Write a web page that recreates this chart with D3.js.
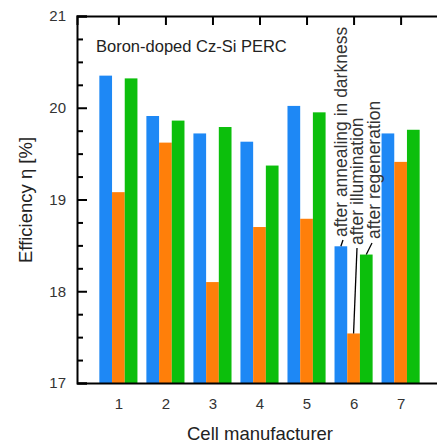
<!DOCTYPE html>
<html>
<head>
<meta charset="utf-8">
<script src="https://cdn.jsdelivr.net/npm/d3@7"></script>
<style>
  body { margin: 0; background: #fff; }
  svg text { font-family: "Liberation Sans", Arial, sans-serif; }
</style>
</head>
<body>
<svg id="chart"></svg>
<script>
const svgWidth = 437;
const svgHeight = 443;

const manufacturers = [1, 2, 3, 4, 5, 6, 7];
const annealed    = [20.35, 19.91, 19.72, 19.63, 20.02, 18.49, 19.72];
const illuminated = [19.08, 19.62, 18.10, 18.70, 18.79, 17.54, 19.41];
const regenerated = [20.32, 19.86, 19.79, 19.37, 19.95, 18.40, 19.76];
const seriesNames = ['after annealing in darkness', 'after illumination', 'after regeneration'];
const seriesColors = ['#1e88f5', '#ff7f0a', '#0cbf0c'];
const yTicks = [17, 18, 19, 20, 21];

const svg = d3.select('#chart')
    .attr('width', svgWidth)
    .attr('height', svgHeight);

const x = d3.scaleLinear()
    .domain([0.12, 7.88])
    .range([77, 442]);

const y = d3.scaleLinear()
    .domain([17, 21])
    .range([383, 16]);

const barW = 12.7;
const series = [annealed, illuminated, regenerated];

// bars
series.forEach((vals, s) => {
    svg.append('g')
        .selectAll('rect')
        .data(manufacturers)
        .enter()
        .append('rect')
        .attr('x', (d, i) => x(d) + (s - 1.5) * barW)
        .attr('y', (d, i) => y(vals[i]))
        .attr('width', barW)
        .attr('height', (d, i) => y(17) - y(vals[i]))
        .attr('fill', seriesColors[s]);
});

// axes
svg.append('g')
    .attr('transform', `translate(${x(0.12)},0)`)
    .call(d3.axisLeft(y).tickValues(yTicks).tickFormat(d3.format('d'))
        .tickSize(-10).tickPadding(11));

svg.append('g')
    .attr('transform', `translate(${x(0.12)},0)`)
    .call(d3.axisLeft(y).tickValues(d3.range(17.25, 21, 0.25).filter(v => v % 1 !== 0))
        .tickSize(-6).tickFormat(''))
    .call(g => g.select('.domain').remove());

svg.append('g')
    .attr('transform', `translate(${x(7.88)},0)`)
    .call(d3.axisRight(y).tickValues(yTicks).tickSize(-5).tickFormat(''));

svg.append('g')
    .attr('transform', `translate(0,${y(21)})`)
    .call(d3.axisTop(x).tickValues(manufacturers).tickSize(-9).tickFormat(''));

svg.append('g')
    .attr('transform', `translate(0,${y(17)})`)
    .call(d3.axisBottom(x).tickValues(manufacturers).tickSize(0).tickPadding(15)
        .tickFormat(d3.format('d')));

svg.selectAll('.domain').attr('stroke', '#000').attr('stroke-width', 2);
svg.selectAll('.tick line').attr('stroke', '#000').attr('stroke-width', 2);
svg.selectAll('.tick text')
    .attr('font-size', 15)
    .attr('fill', '#333')
    .style('font-family', '"Liberation Sans", Arial, sans-serif');

// titles
svg.append('text')
    .text('Cell manufacturer')
    .attr('x', 260)
    .attr('y', 440)
    .attr('text-anchor', 'middle')
    .attr('font-size', 18.5)
    .attr('fill', '#222');

svg.append('text')
    .text('Efficiency η [%]')
    .attr('transform', 'translate(32,200) rotate(-90)')
    .attr('text-anchor', 'middle')
    .attr('font-size', 18.5)
    .attr('fill', '#222');

svg.append('text')
    .text('Boron-doped Cz-Si PERC')
    .attr('x', 96)
    .attr('y', 52)
    .attr('font-size', 16.5)
    .attr('fill', '#222');

// annotations on manufacturer 6
const k = 5;
const labelPos = [
    { bx: 347, by: 237, lx: 343, ly: 240 },
    { bx: 363, by: 245, lx: 357, ly: 248 },
    { bx: 380, by: 239, lx: 372, ly: 243 }
];

series.forEach((vals, s) => {
    const p = labelPos[s];
    const cx = x(manufacturers[k]) + (s - 1) * barW;
    svg.append('line')
        .attr('x1', cx)
        .attr('y1', y(vals[k]))
        .attr('x2', p.lx)
        .attr('y2', p.ly)
        .attr('stroke', '#000')
        .attr('stroke-width', 1.3);
    svg.append('text')
        .text(seriesNames[s])
        .attr('transform', `translate(${p.bx},${p.by}) rotate(-90)`)
        .attr('font-size', 17.5)
        .attr('fill', '#333');
});
</script>
</body>
</html>
